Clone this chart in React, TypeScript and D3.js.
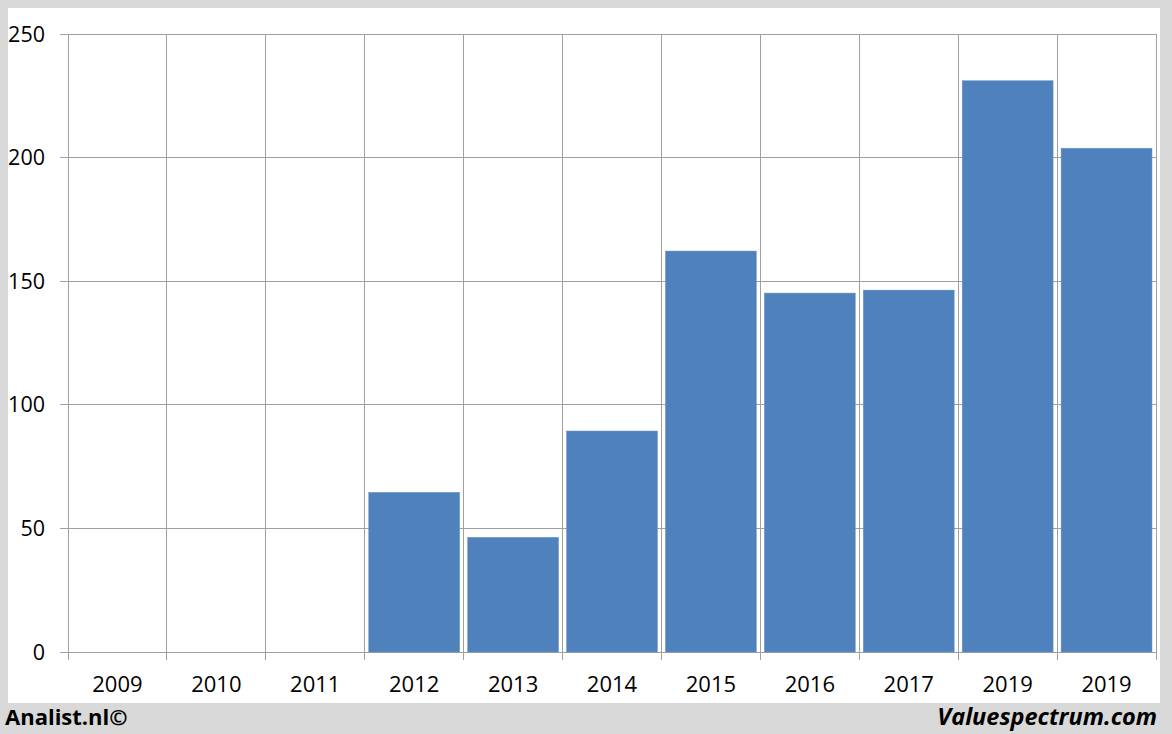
import React from "react";
import * as d3 from "d3";

const categories = ["2009", "2010", "2011", "2012", "2013", "2014", "2015", "2016", "2017", "2019", "2019"];
const values: (number | null)[] = [null, null, null, 64.6, 46.4, 89.4, 162.2, 145.2, 146.4, 231.1, 203.8];
const yTicks = [0, 50, 100, 150, 200, 250];

const W = 1172;
const H = 734;
const plot = { left: 68, right: 1156, top: 34, bottom: 652 };
const font = "'Open Sans', 'Liberation Sans', sans-serif";

export default function App() {
  const idx = categories.map((_, i) => String(i));
  const x = d3.scaleBand<string>().domain(idx).range([plot.left, plot.right]).padding(0);
  const y = d3.scaleLinear().domain([0, 250]).range([plot.bottom, plot.top]);
  const bw = x.bandwidth();
  const inset = 4;
  const grid = "#a0a0a0";

  return (
    <svg width={W} height={H} style={{ position: "absolute", left: 0, top: 0 }} fontFamily={font}>
      <rect x={0} y={0} width={W} height={H} fill="#d9d9d9" />
      <rect x={8} y={8} width={1152} height={695} fill="#ffffff" />
      {yTicks.map((t) => (
        <g key={"y" + t}>
          <line x1={60} x2={plot.right} y1={y(t)} y2={y(t)} stroke={grid} strokeWidth={1} shapeRendering="crispEdges" />
          <text x={45} y={y(t)} dy="0.35em" textAnchor="end" fontSize={21.5} fill="#000">
            {t}
          </text>
        </g>
      ))}
      {d3.range(categories.length + 1).map((i) => {
        const xx = plot.left + i * bw;
        return (
          <line key={"v" + i} x1={xx} x2={xx} y1={plot.top} y2={660} stroke={grid} strokeWidth={1} shapeRendering="crispEdges" />
        );
      })}
      {values.map((v, i) =>
        v == null ? null : (
          <rect
            key={"b" + i}
            x={(x(String(i)) as number) + inset}
            y={y(v)}
            width={bw - inset * 2}
            height={y(0) - y(v)}
            fill="#4f81bd"
            stroke="#6b95c8"
            strokeWidth={0.5}
          />
        )
      )}
      {categories.map((c, i) => (
        <text key={"x" + i} x={(x(String(i)) as number) + bw / 2} y={692} textAnchor="middle" fontSize={22} fill="#000">
          {c}
        </text>
      ))}
      <text x={5} y={725} fontSize={22} fontWeight="bold" fill="#000">
        Analist.nl©
      </text>
      <text x={1157} y={725} fontSize={23.5} fontWeight="bold" fontStyle="italic" textAnchor="end" fill="#000">
        Valuespectrum.com
      </text>
    </svg>
  );
}
